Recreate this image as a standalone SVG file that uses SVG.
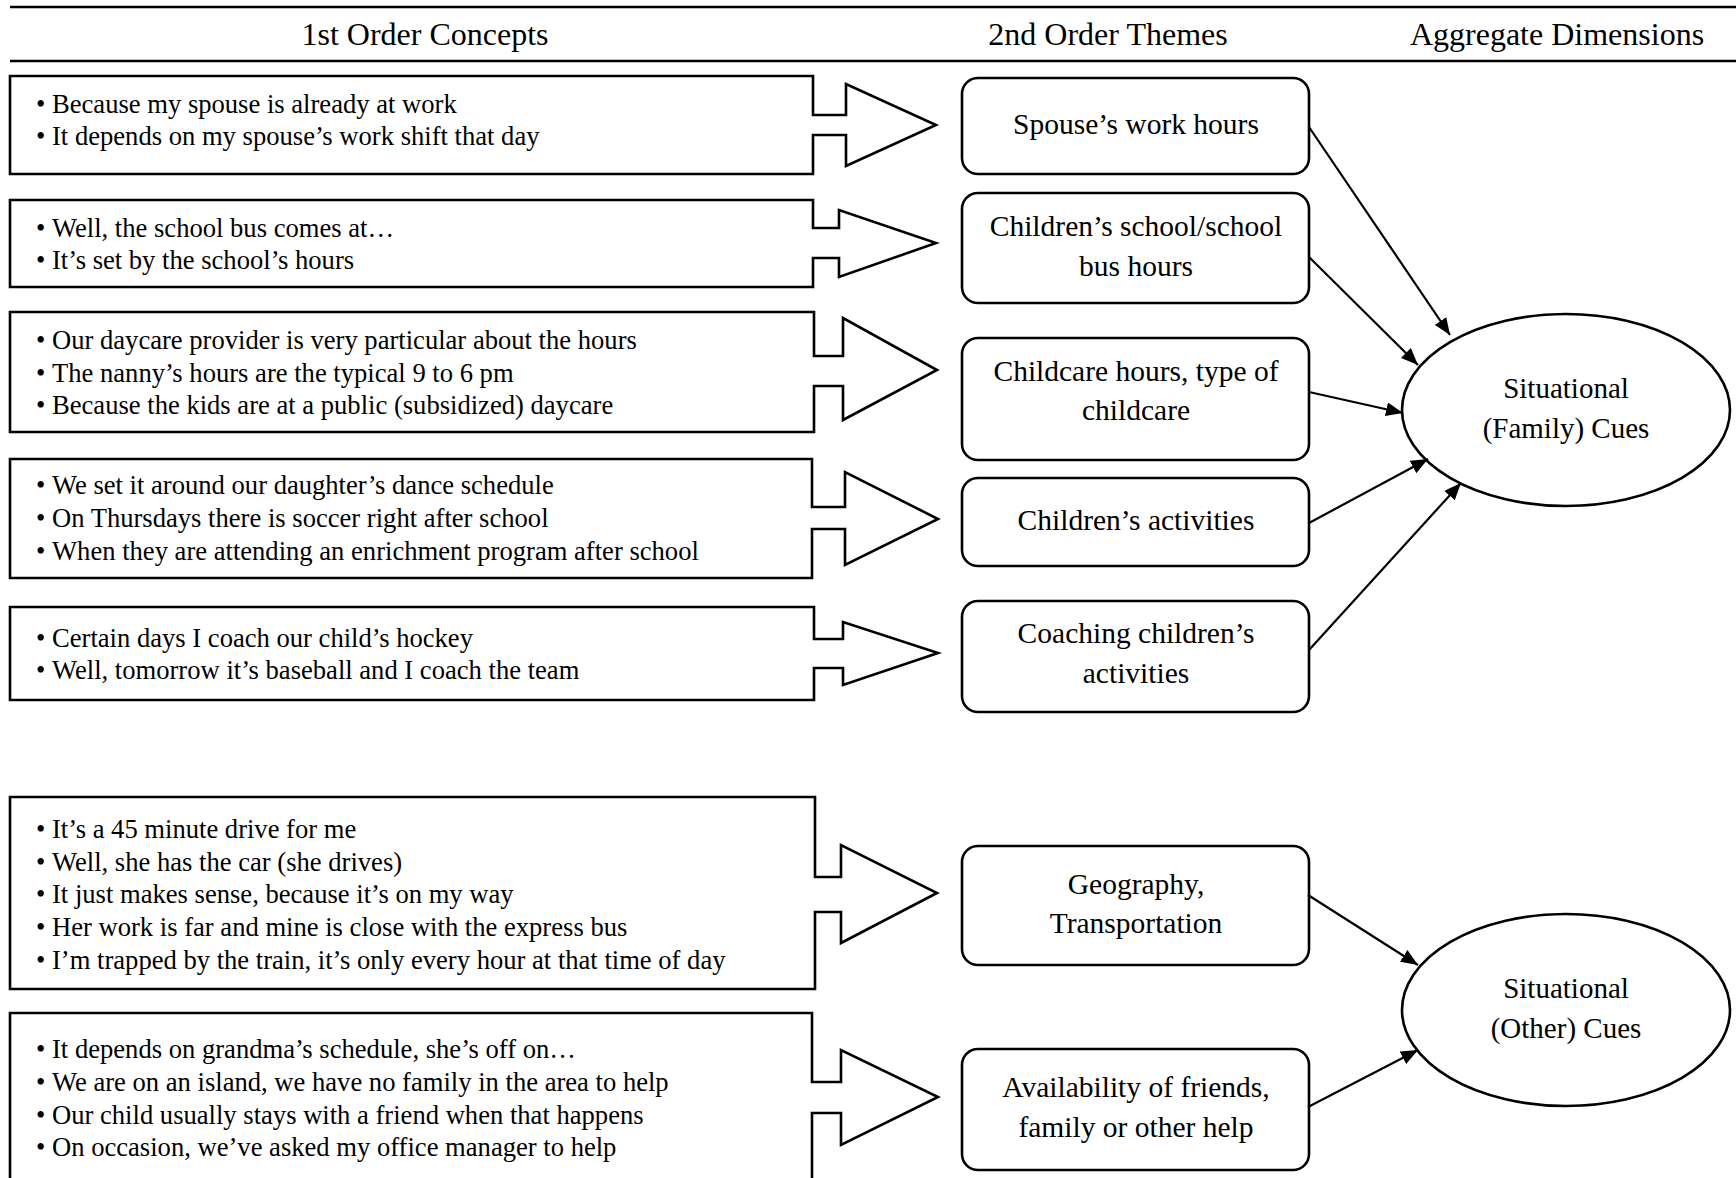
<svg xmlns="http://www.w3.org/2000/svg" width="1736" height="1178" viewBox="0 0 1736 1178">
  <style>
    text { font-family: "Liberation Serif", "Times New Roman", serif; fill: #000; }
    .hdr { font-size: 32px; text-anchor: middle; }
    .item { font-size: 26.6px; }
    .theme { font-size: 29.5px; text-anchor: middle; }
    .dim { font-size: 29px; text-anchor: middle; }
    .rule { stroke: #000; stroke-width: 2.6; }
    .concept { fill: #fff; stroke: #000; stroke-width: 2.6; stroke-linejoin: miter; }
    .themebox { fill: #fff; stroke: #000; stroke-width: 2.6; }
    .dimnode { fill: #fff; stroke: #000; stroke-width: 2.6; }
    .edge { stroke: #000; stroke-width: 2.2; fill: none; marker-end: url(#head); }
  </style>
  <defs>
    <marker id="head" markerUnits="userSpaceOnUse" markerWidth="18" markerHeight="14" refX="17" refY="7" orient="auto">
      <path d="M0,0 L17,7 L0,14 Z" fill="#000"/>
    </marker>
  </defs>

  <rect width="1736" height="1178" fill="#fff"/>

  <!-- column headings -->
  <g id="header">
    <line class="rule" x1="10" y1="7" x2="1736" y2="7"/>
    <line class="rule" x1="10" y1="61" x2="1736" y2="61"/>
    <text class="hdr" x="425" y="45">1st Order Concepts</text>
    <text class="hdr" x="1108" y="45">2nd Order Themes</text>
    <text class="hdr" x="1557" y="45">Aggregate Dimensions</text>
  </g>

  <!-- 1st order concept boxes, each with its block arrow -->
  <g id="concept-1">
    <path class="concept" d="M10,76 H813 V115 H846 V84 L936,125 L846,166 V135 H813 V174 H10 Z"/>
    <text class="item" y="113"><tspan x="36">•</tspan><tspan x="52">Because my spouse is already at work</tspan></text>
    <text class="item" y="145"><tspan x="36">•</tspan><tspan x="52">It depends on my spouse’s work shift that day</tspan></text>
  </g>
  <g id="concept-2">
    <path class="concept" d="M10,200 H813 V228 H839 V210 L936,243 L839,277 V258 H813 V287 H10 Z"/>
    <text class="item" y="237"><tspan x="36">•</tspan><tspan x="52">Well, the school bus comes at…</tspan></text>
    <text class="item" y="269"><tspan x="36">•</tspan><tspan x="52">It’s set by the school’s hours</tspan></text>
  </g>
  <g id="concept-3">
    <path class="concept" d="M10,312 H814 V356 H843 V318 L937,370 L843,420 V386 H814 V432 H10 Z"/>
    <text class="item" y="349"><tspan x="36">•</tspan><tspan x="52">Our daycare provider is very particular about the hours</tspan></text>
    <text class="item" y="382"><tspan x="36">•</tspan><tspan x="52">The nanny’s hours are the typical 9 to 6 pm</tspan></text>
    <text class="item" y="414"><tspan x="36">•</tspan><tspan x="52">Because the kids are at a public (subsidized) daycare</tspan></text>
  </g>
  <g id="concept-4">
    <path class="concept" d="M10,459 H812 V507 H845 V472 L938,519 L845,565 V529 H812 V578 H10 Z"/>
    <text class="item" y="494"><tspan x="36">•</tspan><tspan x="52">We set it around our daughter’s dance schedule</tspan></text>
    <text class="item" y="527"><tspan x="36">•</tspan><tspan x="52">On Thursdays there is soccer right after school</tspan></text>
    <text class="item" y="560"><tspan x="36">•</tspan><tspan x="52">When they are attending an enrichment program after school</tspan></text>
  </g>
  <g id="concept-5">
    <path class="concept" d="M10,607 H814 V639 H843 V622 L938,653 L843,685 V668 H814 V700 H10 Z"/>
    <text class="item" y="647"><tspan x="36">•</tspan><tspan x="52">Certain days I coach our child’s hockey</tspan></text>
    <text class="item" y="679"><tspan x="36">•</tspan><tspan x="52">Well, tomorrow it’s baseball and I coach the team</tspan></text>
  </g>
  <g id="concept-6">
    <path class="concept" d="M10,797 H815 V877 H841 V845 L937,893 L841,943 V912 H815 V989 H10 Z"/>
    <text class="item" y="838"><tspan x="36">•</tspan><tspan x="52">It’s a 45 minute drive for me</tspan></text>
    <text class="item" y="871"><tspan x="36">•</tspan><tspan x="52">Well, she has the car (she drives)</tspan></text>
    <text class="item" y="903"><tspan x="36">•</tspan><tspan x="52">It just makes sense, because it’s on my way</tspan></text>
    <text class="item" y="936"><tspan x="36">•</tspan><tspan x="52">Her work is far and mine is close with the express bus</tspan></text>
    <text class="item" y="969"><tspan x="36">•</tspan><tspan x="52">I’m trapped by the train, it’s only every hour at that time of day</tspan></text>
  </g>
  <g id="concept-7">
    <path class="concept" d="M10,1200 V1013 H812 V1082 H841 V1050 L938,1097 L841,1145 V1113 H812 V1200"/>
    <text class="item" y="1058"><tspan x="36">•</tspan><tspan x="52">It depends on grandma’s schedule, she’s off on…</tspan></text>
    <text class="item" y="1091"><tspan x="36">•</tspan><tspan x="52">We are on an island, we have no family in the area to help</tspan></text>
    <text class="item" y="1124"><tspan x="36">•</tspan><tspan x="52">Our child usually stays with a friend when that happens</tspan></text>
    <text class="item" y="1156"><tspan x="36">•</tspan><tspan x="52">On occasion, we’ve asked my office manager to help</tspan></text>
  </g>

  <!-- 2nd order themes -->
  <g id="theme-spouse">
    <rect class="themebox" x="962" y="78" width="347" height="96" rx="16"/>
    <text class="theme" x="1136" y="134">Spouse’s work hours</text>
  </g>
  <g id="theme-school">
    <rect class="themebox" x="962" y="193" width="347" height="110" rx="16"/>
    <text class="theme" x="1136" y="236">Children’s school/school</text>
    <text class="theme" x="1136" y="276">bus hours</text>
  </g>
  <g id="theme-childcare">
    <rect class="themebox" x="962" y="338" width="347" height="122" rx="16"/>
    <text class="theme" x="1136" y="381">Childcare hours, type of</text>
    <text class="theme" x="1136" y="420">childcare</text>
  </g>
  <g id="theme-activities">
    <rect class="themebox" x="962" y="478" width="347" height="88" rx="16"/>
    <text class="theme" x="1136" y="530">Children’s activities</text>
  </g>
  <g id="theme-coaching">
    <rect class="themebox" x="962" y="601" width="347" height="111" rx="16"/>
    <text class="theme" x="1136" y="643">Coaching children’s</text>
    <text class="theme" x="1136" y="683">activities</text>
  </g>
  <g id="theme-geography">
    <rect class="themebox" x="962" y="846" width="347" height="119" rx="16"/>
    <text class="theme" x="1136" y="894">Geography,</text>
    <text class="theme" x="1136" y="933">Transportation</text>
  </g>
  <g id="theme-help">
    <rect class="themebox" x="962" y="1049" width="347" height="121" rx="16"/>
    <text class="theme" x="1136" y="1097">Availability of friends,</text>
    <text class="theme" x="1136" y="1137">family or other help</text>
  </g>

  <!-- aggregate dimensions -->
  <g id="dim-family">
    <ellipse class="dimnode" cx="1566" cy="410" rx="164" ry="96"/>
    <text class="dim" x="1566" y="398">Situational</text>
    <text class="dim" x="1566" y="438">(Family) Cues</text>
  </g>
  <g id="dim-other">
    <ellipse class="dimnode" cx="1566" cy="1010" rx="164" ry="96"/>
    <text class="dim" x="1566" y="998">Situational</text>
    <text class="dim" x="1566" y="1038">(Other) Cues</text>
  </g>

  <!-- theme-to-dimension connectors -->
  <g id="connectors">
    <line class="edge" x1="1309" y1="127" x2="1450" y2="335"/>
    <line class="edge" x1="1309" y1="257" x2="1418" y2="365"/>
    <line class="edge" x1="1309" y1="392" x2="1403" y2="413"/>
    <line class="edge" x1="1309" y1="523" x2="1428" y2="459"/>
    <line class="edge" x1="1309" y1="650" x2="1461" y2="483"/>
    <line class="edge" x1="1308" y1="895" x2="1418" y2="965"/>
    <line class="edge" x1="1308" y1="1107" x2="1418" y2="1050"/>
  </g>
</svg>
